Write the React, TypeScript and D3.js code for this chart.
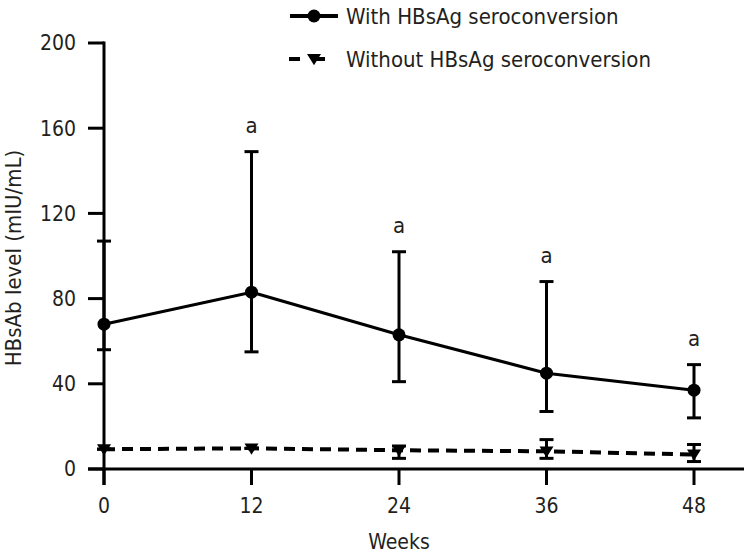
import React from 'react';
import * as d3 from 'd3';

// weeks on x axis
const weeks = [0, 12, 24, 36, 48];
const yTicks = [0, 40, 80, 120, 160, 200];

// with HBsAg seroconversion: mean and error bar ends
const withMean = [68, 83, 63, 45, 37];
const withLow = [56, 55, 41, 27, 24];
const withHigh = [107, 149, 102, 88, 49];

// without HBsAg seroconversion
const withoutMean = [9.3, 9.7, 8.8, 8.3, 6.8];
const withoutLow = [9.3, 9.7, 5, 5, 3.5];
const withoutHigh = [9.3, 9.7, 10.8, 13.8, 11.5];

// significance marks
const marks = ['', 'a', 'a', 'a', 'a'];

const FONT = '"DejaVu Sans Condensed", "DejaVu Sans", sans-serif';
const INK = '#231f20';

export default function App() {
  const width = 748, height = 558;
  const x = d3.scaleLinear().domain([0, 48]).range([104, 694]);
  const y = d3.scaleLinear().domain([0, 200]).range([469, 43]);

  const line = d3.line<number>().x((d, i) => x(weeks[i])).y(d => y(d));
  const tri = (cx: number, cy: number, s = 7) => `M${cx - s},${cy - s * 0.7}L${cx + s},${cy - s * 0.7}L${cx},${cy + s * 0.9}Z`;

  const errBar = (i: number, lo: number, hi: number, key: string) => (
    <g key={key} stroke="#000" strokeWidth={3}>
      <line x1={x(weeks[i])} x2={x(weeks[i])} y1={y(lo)} y2={y(hi)} />
      <line x1={x(weeks[i]) - 7} x2={x(weeks[i]) + 7} y1={y(hi)} y2={y(hi)} />
      <line x1={x(weeks[i]) - 7} x2={x(weeks[i]) + 7} y1={y(lo)} y2={y(lo)} />
    </g>
  );

  return (
    <svg width={width} height={height} style={{ position: 'absolute', left: 0, top: 0 }} fontFamily={FONT}>
      <rect width={width} height={height} fill="#fff" />
      {/* axes */}
      <line x1={x(0)} x2={x(0)} y1={y(200) - 1.5} y2={y(0) + 16} stroke="#000" strokeWidth={3} />
      <line x1={x(0) - 16} x2={744} y1={y(0)} y2={y(0)} stroke="#000" strokeWidth={3} />
      {yTicks.map(t => (
        <g key={'y' + t}>
          <line x1={x(0) - 16} x2={x(0)} y1={y(t)} y2={y(t)} stroke="#000" strokeWidth={3} />
          <text x={x(0) - 28} y={y(t)} dy="0.35em" textAnchor="end" fontSize={21} fill={INK}>{t}</text>
        </g>
      ))}
      {weeks.map(w => (
        <g key={'x' + w}>
          <line x1={x(w)} x2={x(w)} y1={y(0)} y2={y(0) + 16} stroke="#000" strokeWidth={3} />
          <text x={x(w)} y={y(0) + 37} dy="0.35em" textAnchor="middle" fontSize={21} fill={INK}>{w}</text>
        </g>
      ))}
      <text x={x(24)} y={549} textAnchor="middle" fontSize={21} fill={INK}>Weeks</text>
      <text transform={`translate(21,${y(100) + 2}) rotate(-90)`} textAnchor="middle" fontSize={22} fill={INK}>HBsAb level (mIU/mL)</text>

      {/* without series */}
      {weeks.map((w, i) => errBar(i, withoutLow[i], withoutHigh[i], 'eb2' + i))}
      <path d={line(withoutMean) || ''} fill="none" stroke="#000" strokeWidth={4} strokeDasharray="11,7" />
      {weeks.map((w, i) => <path key={'t' + i} d={tri(x(w), y(withoutMean[i]))} fill="#000" />)}

      {/* with series */}
      {weeks.map((w, i) => errBar(i, withLow[i], withHigh[i], 'eb1' + i))}
      <path d={line(withMean) || ''} fill="none" stroke="#000" strokeWidth={3} />
      {weeks.map((w, i) => <circle key={'c' + i} cx={x(w)} cy={y(withMean[i])} r={6.5} fill="#000" />)}
      {weeks.map((w, i) => marks[i] ? (
        <text key={'m' + i} x={x(w)} y={y(withHigh[i]) - 19} textAnchor="middle" fontSize={22} fill={INK}>{marks[i]}</text>
      ) : null)}

      {/* legend */}
      <line x1={290} x2={338} y1={16} y2={16} stroke="#000" strokeWidth={4} />
      <circle cx={314} cy={16} r={6.5} fill="#000" />
      <text x={346} y={16} dy="0.35em" fontSize={22} fill={INK}>With HBsAg seroconversion</text>
      <line x1={289} x2={338} y1={59} y2={59} stroke="#000" strokeWidth={4} strokeDasharray="11,14" />
      <path d={tri(314, 59)} fill="#000" />
      <text x={346} y={59} dy="0.35em" fontSize={22} fill={INK}>Without HBsAg seroconversion</text>
    </svg>
  );
}
